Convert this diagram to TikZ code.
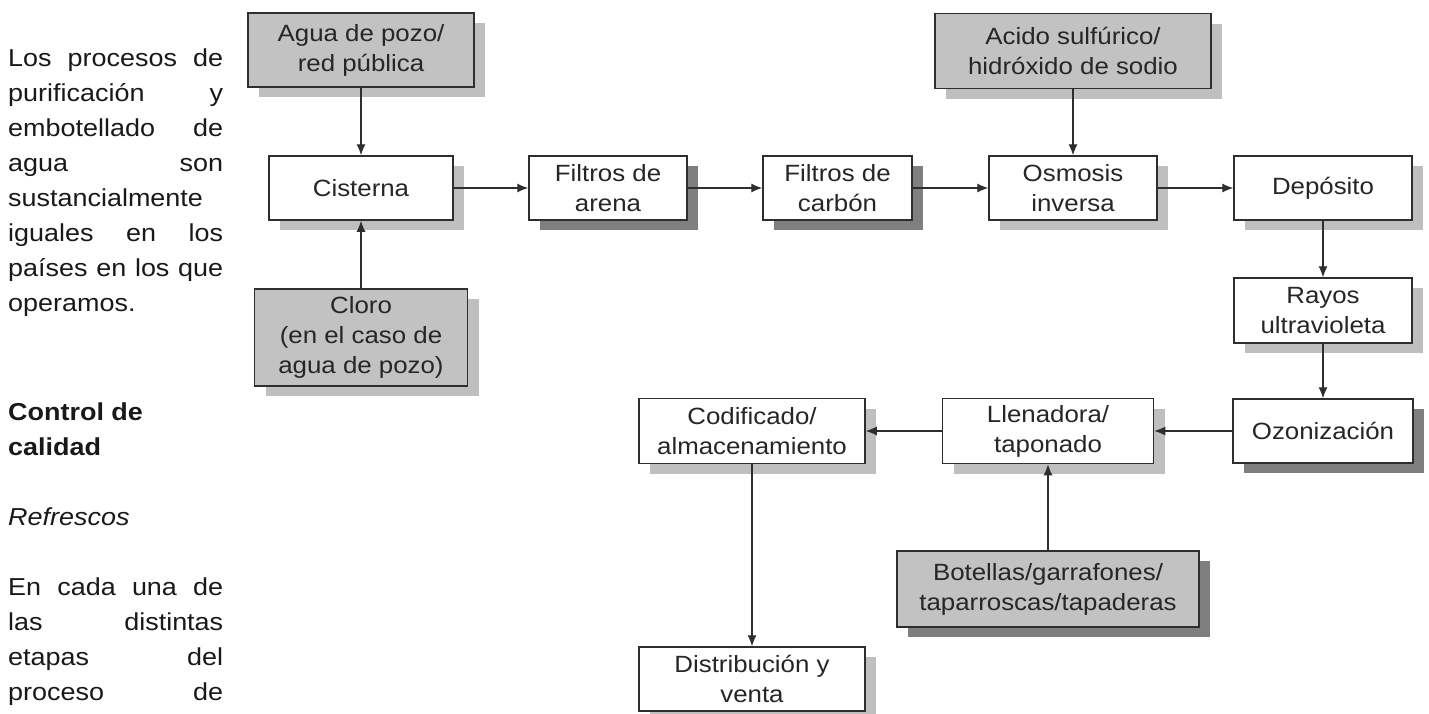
\documentclass[tikz,border=0pt]{standalone}
\usepackage{fontspec}
\setmainfont{Liberation Sans}[FakeStretch=1.1]
\usetikzlibrary{arrows.meta,shadows}
\definecolor{boxgray}{HTML}{C2C2C2}
\definecolor{shlight}{HTML}{BFBFBF}
\definecolor{shdark}{HTML}{7F7F7F}
\definecolor{linegray}{HTML}{2E2E2E}
\tikzstyle{proc}=[draw=linegray, line width=1.5pt, fill=white,
    text=black!85, inner sep=0pt, align=center,
    font=\fontsize{23.5}{30}\selectfont]
\tikzstyle{inp}=[proc, fill=boxgray]
\tikzstyle{lsh}=[drop shadow={shadow xshift=11pt, shadow yshift=-10pt,
    fill=shlight, opacity=1}]
\tikzstyle{dsh}=[drop shadow={shadow xshift=11pt, shadow yshift=-10pt,
    fill=shdark, opacity=1}]
\tikzstyle{flow}=[->, draw=linegray, line width=1.1pt]
\tikzstyle{txt}=[anchor=base west, inner sep=0pt,
    font=\fontsize{24.5}{30}\selectfont, text=black!90]
\def\colw{215pt}
\def\rowa{188}
\def\rowb{431}

\begin{document}
\begin{tikzpicture}[x=1pt, y=-1pt, >={Latex[length=11pt,width=9pt]}]
    \useasboundingbox (0,0) rectangle (1429,713);
    % left column text
    \node (p1) [txt] at (8,66.5) {\makebox[\colw][s]{Los procesos de}};
    \node (p2) [txt] at (8,101.5) {\makebox[\colw][s]{purificación y}};
    \node (p3) [txt] at (8,136.5) {\makebox[\colw][s]{embotellado de}};
    \node (p4) [txt] at (8,171.5) {\makebox[\colw][s]{agua son}};
    \node (p5) [txt] at (8,206.5) {sustancialmente};
    \node (p6) [txt] at (8,241.5) {\makebox[\colw][s]{iguales en los}};
    \node (p7) [txt] at (8,276.5) {\makebox[\colw][s]{países en los que}};
    \node (p8) [txt] at (8,311.5) {operamos.};
    \node (q1) [txt] at (8,420.5) {\bfseries Control de};
    \node (q2) [txt] at (8,455.5) {\bfseries calidad};
    \node (q3) [txt] at (8,525.5) {\itshape Refrescos};
    \node (q4) [txt] at (8,595.5) {\makebox[\colw][s]{En cada una de}};
    \node (q5) [txt] at (8,630.5) {\makebox[\colw][s]{las distintas}};
    \node (q6) [txt] at (8,665.5) {\makebox[\colw][s]{etapas del}};
    \node (q7) [txt] at (8,700.5) {\makebox[\colw][s]{proceso de}};

    % flow boxes
    \path (361,50) node (agua) [inp, lsh, minimum width=226pt, minimum height=74pt]
        {Agua de pozo/\\red pública};
    \path (361,\rowa) node (cist) [proc, lsh, minimum width=184pt, minimum height=64pt]
        {Cisterna};
    \path (361,337.5) node (cloro) [inp, lsh, minimum width=213pt, minimum height=97pt]
        {Cloro\\(en el caso de\\agua de pozo)};
    \path (608,\rowa) node (arena) [proc, dsh, minimum width=158pt, minimum height=64pt]
        {Filtros de\\arena};
    \path (837.5,\rowa) node (carbon) [proc, dsh, minimum width=149pt, minimum height=64pt]
        {Filtros de\\carbón};
    \path (1073,51) node (acido) [inp, lsh, minimum width=276pt, minimum height=75pt]
        {Acido sulfúrico/\\hidróxido de sodio};
    \path (1073,\rowa) node (osmo) [proc, lsh, minimum width=168pt, minimum height=64pt]
        {Osmosis\\inversa};
    \path (1323,\rowa) node (depo) [proc, lsh, minimum width=178pt, minimum height=64pt]
        {Depósito};
    \path (1323,310.5) node (rayos) [proc, lsh, minimum width=178pt, minimum height=65pt]
        {Rayos\\ultravioleta};
    \path (1323,\rowb) node (ozono) [proc, dsh, minimum width=180pt, minimum height=64pt]
        {Ozonización};
    \path (1048,\rowb) node (llena) [proc, lsh, minimum width=211pt, minimum height=65pt]
        {Llenadora/\\taponado};
    \path (752,\rowb) node (codif) [proc, lsh, minimum width=226pt, minimum height=65pt]
        {Codificado/\\almacenamiento};
    \path (1048,589) node (botel) [inp, dsh, minimum width=302pt, minimum height=76pt]
        {Botellas/garrafones/\\taparroscas/tapaderas};
    \path (752,679) node (distr) [proc, lsh, minimum width=226pt, minimum height=64pt]
        {Distribución y\\venta};

    % connectors
    \draw [flow] (agua) -- (cist);
    \draw [flow] (cloro) -- (cist);
    \draw [flow] (cist) -- (arena);
    \draw [flow] (arena) -- (carbon);
    \draw [flow] (carbon) -- (osmo);
    \draw [flow] (acido) -- (osmo);
    \draw [flow] (osmo) -- (depo);
    \draw [flow] (depo) -- (rayos);
    \draw [flow] (rayos) -- (ozono);
    \draw [flow] (ozono) -- (llena);
    \draw [flow] (llena) -- (codif);
    \draw [flow] (botel) -- (llena);
    \draw [flow] (codif) -- (distr);
\end{tikzpicture}
\end{document}
